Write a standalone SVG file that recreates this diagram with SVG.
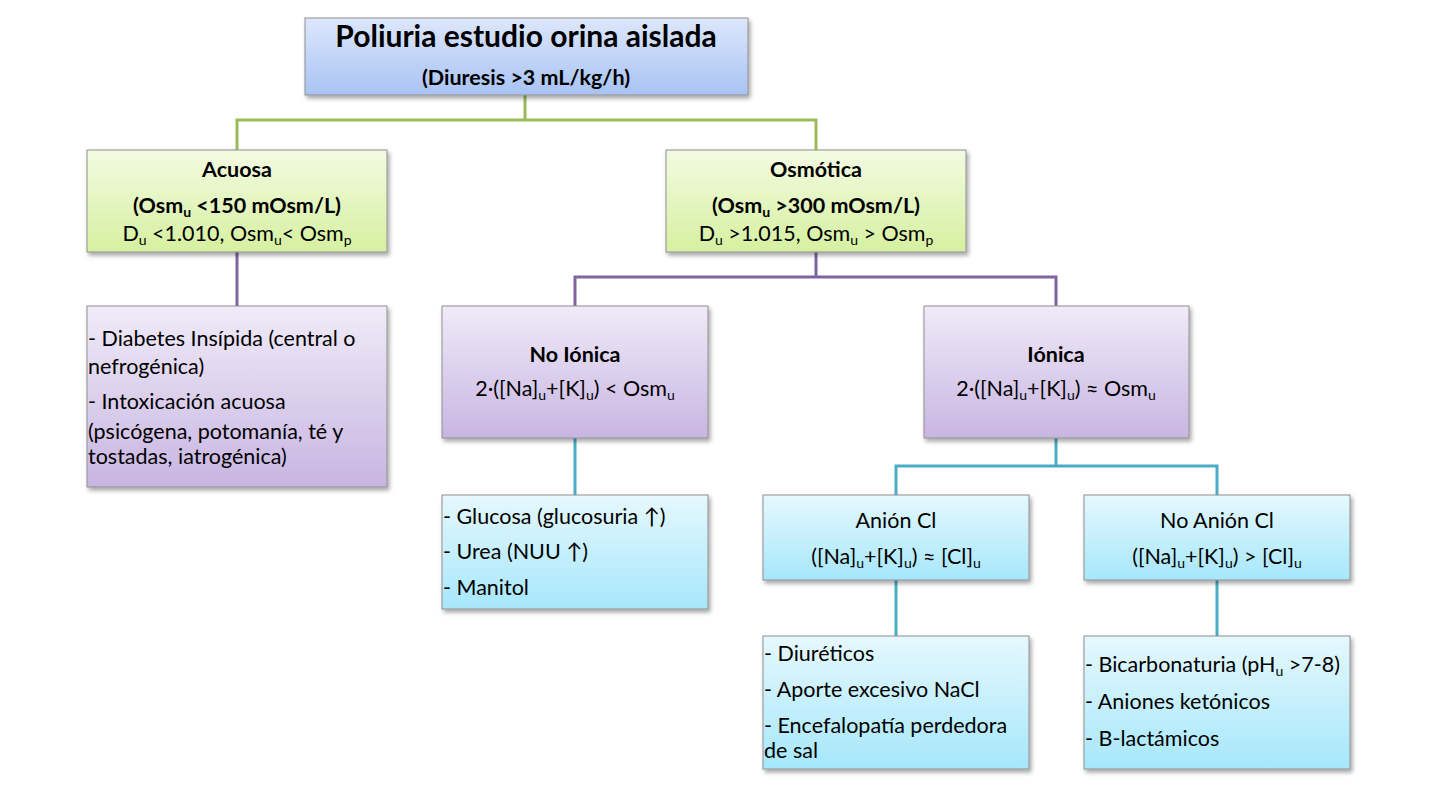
<svg xmlns="http://www.w3.org/2000/svg" width="1435" height="791" viewBox="0 0 1435 791">
<defs>
<linearGradient id="gBlue" x1="0" y1="0" x2="0" y2="1"><stop offset="0" stop-color="#dde7fb"/><stop offset="1" stop-color="#a8c3f4"/></linearGradient>
<linearGradient id="gGreen" x1="0" y1="0" x2="0" y2="1"><stop offset="0" stop-color="#f3fbe2"/><stop offset="1" stop-color="#d6f0a0"/></linearGradient>
<linearGradient id="gPurple" x1="0" y1="0" x2="0" y2="1"><stop offset="0" stop-color="#f0ebf8"/><stop offset="1" stop-color="#c8b5e2"/></linearGradient>
<linearGradient id="gCyan" x1="0" y1="0" x2="0" y2="1"><stop offset="0" stop-color="#e6f8fd"/><stop offset="1" stop-color="#a6e7fb"/></linearGradient>
<filter id="sh" x="-10%" y="-10%" width="125%" height="130%"><feDropShadow dx="2" dy="3" stdDeviation="2" flood-color="#000" flood-opacity="0.35"/></filter>
</defs>
<style>
.box{stroke:#8f8f8f;stroke-width:1;filter:url(#sh)}
text{font-family:Lato,"Open Sans","Liberation Sans",sans-serif;fill:#000}
.c{text-anchor:middle}
.b{font-weight:bold}
.t{font-size:21.5px}
.s{font-size:14px}
.cg{stroke:#9bbb59;stroke-width:3;fill:none}
.cp{stroke:#8064a2;stroke-width:3;fill:none}
.cc{stroke:#4bacc6;stroke-width:3;fill:none}
</style>
<rect width="1435" height="791" fill="#fff"/>
<g id="connectors">
<path class="cg" d="M525 95V120M237 150V120H816V150"/>
<path class="cp" d="M237 252V306M816 252V277M575 306V277H1056V306"/>
<path class="cc" d="M575 438V495M1056 438V466M896 495V466H1217V495M896 580V636M1217 580V636"/>
</g>
<g id="n-root">
<rect class="box" x="305" y="18" width="443" height="77" fill="url(#gBlue)"/>
<text class="c b" x="526" y="47" font-size="30">Poliuria estudio orina aislada</text>
<text class="c b" x="526" y="85" font-size="21.5">(Diuresis &gt;3 mL/kg/h)</text>
</g>
<g id="n-acuosa">
<rect class="box" x="87" y="150" width="300" height="102" fill="url(#gGreen)"/>
<text class="c b t" x="237" y="177">Acuosa</text>
<text class="c b t" x="237" y="213">(Osm<tspan class="s" dy="4">u</tspan><tspan dy="-4"> &lt;150 mOsm/L)</tspan></text>
<text class="c t" x="237" y="241">D<tspan class="s" dy="4">u</tspan><tspan dy="-4"> &lt;1.010, Osm</tspan><tspan class="s" dy="4">u</tspan><tspan dy="-4">&lt; Osm</tspan><tspan class="s" dy="4">p</tspan></text>
</g>
<g id="n-osmotica">
<rect class="box" x="666" y="150" width="300" height="102" fill="url(#gGreen)"/>
<text class="c b t" x="816" y="177">Osmótica</text>
<text class="c b t" x="816" y="213">(Osm<tspan class="s" dy="4">u</tspan><tspan dy="-4"> &gt;300 mOsm/L)</tspan></text>
<text class="c t" x="816" y="241">D<tspan class="s" dy="4">u</tspan><tspan dy="-4"> &gt;1.015, Osm</tspan><tspan class="s" dy="4">u</tspan><tspan dy="-4"> &gt; Osm</tspan><tspan class="s" dy="4">p</tspan></text>
</g>
<g id="n-acuosa-list">
<rect class="box" x="87" y="306" width="300" height="181" fill="url(#gPurple)"/>
<text class="t" x="88" y="346">- Diabetes Insípida (central o</text>
<text class="t" x="88" y="374">nefrogénica)</text>
<text class="t" x="88" y="409">- Intoxicación acuosa</text>
<text class="t" x="88" y="439">(psicógena, potomanía, té y</text>
<text class="t" x="88" y="464">tostadas, iatrogénica)</text>
</g>
<g id="n-noionica">
<rect class="box" x="442" y="306" width="266" height="132" fill="url(#gPurple)"/>
<text class="c b t" x="575" y="362">No Iónica</text>
<text class="c t" x="575" y="396">2·([Na]<tspan class="s" dy="4">u</tspan><tspan dy="-4">+[K]</tspan><tspan class="s" dy="4">u</tspan><tspan dy="-4">) &lt; Osm</tspan><tspan class="s" dy="4">u</tspan></text>
</g>
<g id="n-ionica">
<rect class="box" x="924" y="306" width="265" height="132" fill="url(#gPurple)"/>
<text class="c b t" x="1056" y="362">Iónica</text>
<text class="c t" x="1056" y="396">2·([Na]<tspan class="s" dy="4">u</tspan><tspan dy="-4">+[K]</tspan><tspan class="s" dy="4">u</tspan><tspan dy="-4">) ≈ Osm</tspan><tspan class="s" dy="4">u</tspan></text>
</g>
<g id="n-noionica-list">
<rect class="box" x="442" y="495" width="266" height="114" fill="url(#gCyan)"/>
<text class="t" x="443" y="524">- Glucosa (glucosuria ↑)</text>
<text class="t" x="443" y="559">- Urea (NUU ↑)</text>
<text class="t" x="443" y="595">- Manitol</text>
</g>
<g id="n-anioncl">
<rect class="box" x="763" y="495" width="266" height="85" fill="url(#gCyan)"/>
<text class="c t" x="896" y="528">Anión Cl</text>
<text class="c t" x="896" y="564">([Na]<tspan class="s" dy="4">u</tspan><tspan dy="-4">+[K]</tspan><tspan class="s" dy="4">u</tspan><tspan dy="-4">) ≈ [Cl]</tspan><tspan class="s" dy="4">u</tspan></text>
</g>
<g id="n-noanioncl">
<rect class="box" x="1084" y="495" width="266" height="85" fill="url(#gCyan)"/>
<text class="c t" x="1217" y="528">No Anión Cl</text>
<text class="c t" x="1217" y="564">([Na]<tspan class="s" dy="4">u</tspan><tspan dy="-4">+[K]</tspan><tspan class="s" dy="4">u</tspan><tspan dy="-4">) &gt; [Cl]</tspan><tspan class="s" dy="4">u</tspan></text>
</g>
<g id="n-anioncl-list">
<rect class="box" x="763" y="636" width="266" height="133" fill="url(#gCyan)"/>
<text class="t" x="764" y="661">- Diuréticos</text>
<text class="t" x="764" y="697">- Aporte excesivo NaCl</text>
<text class="t" x="764" y="733">- Encefalopatía perdedora</text>
<text class="t" x="764" y="758">de sal</text>
</g>
<g id="n-noanioncl-list">
<rect class="box" x="1084" y="636" width="266" height="133" fill="url(#gCyan)"/>
<text class="t" x="1085" y="672">- Bicarbonaturia (pH<tspan class="s" dy="4">u</tspan><tspan dy="-4"> &gt;7-8)</tspan></text>
<text class="t" x="1085" y="709">- Aniones ketónicos</text>
<text class="t" x="1085" y="746">- B-lactámicos</text>
</g>
</svg>
